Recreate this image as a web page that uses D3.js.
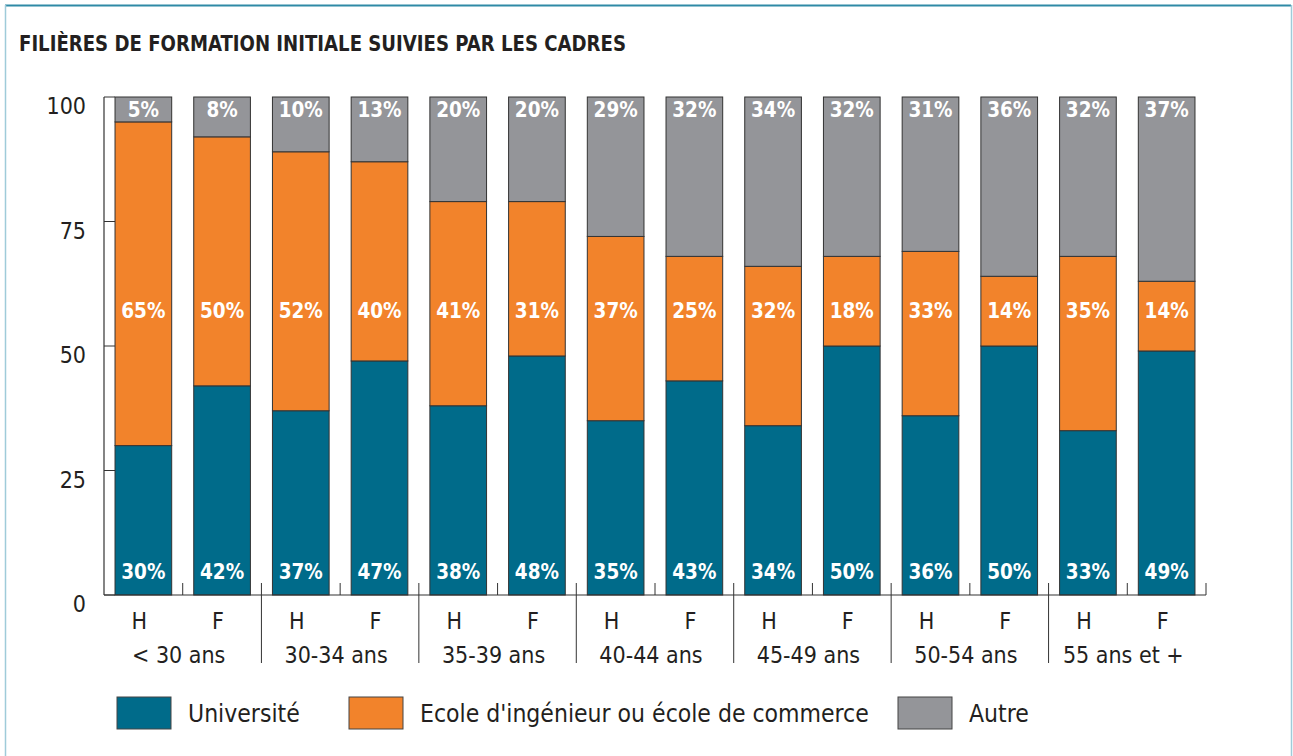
<!DOCTYPE html>
<html>
<head>
<meta charset="utf-8">
<script src="https://d3js.org/d3.v7.min.js"></script>
<style>
	body { margin: 0; background: #fff; }
	text { font-family: "DejaVu Sans Condensed", "DejaVu Sans", sans-serif; }
</style>
</head>
<body>
<svg id="chart" width="1293" height="756"></svg>
<script>

// data
const groups = ["< 30 ans", "30-34 ans", "35-39 ans", "40-44 ans", "45-49 ans", "50-54 ans", "55 ans et +"];
const sexes = ["H", "F"];
const universite = [30, 42, 37, 47, 38, 48, 35, 43, 34, 50, 36, 50, 33, 49];
const ecole = [65, 50, 52, 40, 41, 31, 37, 25, 32, 18, 33, 14, 35, 14];
const autre = [5, 8, 10, 13, 20, 20, 29, 32, 34, 32, 31, 36, 32, 37];
const yTicks = [0, 25, 50, 75, 100];
const seriesNames = ["Université", "Ecole d'ingénieur ou école de commerce", "Autre"];
const seriesColors = ["#006b8a", "#f2832b", "#949599"];

const PLOT_LEFT = 104;
const PLOT_RIGHT = 1206;
const PLOT_TOP = 97;
const PLOT_BOTTOM = 595;
const STROKE = "#333";

let svg = d3.select("svg#chart");

// frame
svg.append("line")
	.attr("x1", 5).attr("x2", 1291)
	.attr("y1", 5.5).attr("y2", 5.5)
	.attr("stroke", "#2f8aa6")
	.attr("stroke-width", 2)
	;
svg.append("line")
	.attr("x1", 5.5).attr("x2", 5.5)
	.attr("y1", 5).attr("y2", 756)
	.attr("stroke", "#9fcbd9")
	.attr("stroke-width", 1.5)
	;
svg.append("line")
	.attr("x1", 1291.5).attr("x2", 1291.5)
	.attr("y1", 5).attr("y2", 756)
	.attr("stroke", "#9fcbd9")
	.attr("stroke-width", 1.5)
	;

svg.append("text")
	.text("FILIÈRES DE FORMATION INITIALE SUIVIES PAR LES CADRES")
	.attr("x", 19)
	.attr("y", 51)
	.attr("font-size", 22)
	.attr("font-weight", "bold")
	.attr("fill", "#231f20")
	.attr("textLength", 607)
	.attr("lengthAdjust", "spacingAndGlyphs")
	;

// scales
let keys = [];
groups.forEach(g => sexes.forEach(s => keys.push(g + "|" + s)));

let x = d3.scaleBand()
	.domain(keys)
	.range([PLOT_LEFT, PLOT_RIGHT])
	.paddingInner(0.28)
	.paddingOuter(0.14)
	;
let y = d3.scaleLinear()
	.domain([0, 100])
	.range([PLOT_BOTTOM, PLOT_TOP])
	;

// y axis line + inward ticks
svg.append("line")
	.attr("x1", PLOT_LEFT).attr("x2", PLOT_LEFT)
	.attr("y1", y(100)).attr("y2", y(0))
	.attr("stroke", STROKE)
	.attr("stroke-width", 1.2)
	;
svg.selectAll(".ytick")
	.data(yTicks)
	.join("line")
	.attr("class", "ytick")
	.attr("x1", PLOT_LEFT).attr("x2", PLOT_LEFT + 11)
	.attr("y1", d => y(d)).attr("y2", d => y(d))
	.attr("stroke", STROKE)
	.attr("stroke-width", 1)
	;
svg.selectAll(".ylabel")
	.data(yTicks)
	.join("text")
	.attr("class", "ylabel")
	.text(d => d)
	.attr("x", 86)
	.attr("y", d => y(d) + 9)
	.attr("dy", "0.35em")
	.attr("text-anchor", "end")
	.attr("font-size", 23)
	.attr("fill", "#231f20")
	;

// bars
let rows = keys.map((k, i) => ({
	key: k,
	sex: k.split("|")[1],
	u: universite[i],
	e: ecole[i],
	a: autre[i]
}));

let bars = svg.selectAll(".bar")
	.data(rows)
	.join("g")
	.attr("class", "bar")
	;

bars.append("rect")
	.attr("x", d => x(d.key))
	.attr("width", x.bandwidth())
	.attr("y", d => y(d.u))
	.attr("height", d => y(0) - y(d.u))
	.attr("fill", seriesColors[0])
	.attr("stroke", STROKE)
	;
bars.append("rect")
	.attr("x", d => x(d.key))
	.attr("width", x.bandwidth())
	.attr("y", d => y(d.u + d.e))
	.attr("height", d => y(d.u) - y(d.u + d.e))
	.attr("fill", seriesColors[1])
	.attr("stroke", STROKE)
	;
// Autre fills what is left up to 100
bars.append("rect")
	.attr("x", d => x(d.key))
	.attr("width", x.bandwidth())
	.attr("y", y(100))
	.attr("height", d => y(d.u + d.e) - y(100))
	.attr("fill", seriesColors[2])
	.attr("stroke", STROKE)
	;

// value labels
let labelStyle = sel => sel
	.attr("x", d => x(d.key) + x.bandwidth() / 2)
	.attr("dy", "0.35em")
	.attr("text-anchor", "middle")
	.attr("font-family", "'DejaVu Sans', sans-serif")
	.attr("font-weight", "bold")
	.attr("font-size", 20.5)
	.attr("fill", "white")
	;
bars.append("text")
	.text(d => d.u + "%")
	.attr("y", y(0) - 23)
	.call(labelStyle)
	;
bars.append("text")
	.text(d => d.e + "%")
	.attr("y", y(57))
	.call(labelStyle)
	;
bars.append("text")
	.text(d => d.a + "%")
	.attr("y", y(100) + 13)
	.call(labelStyle)
	;

// x axis
svg.append("line")
	.attr("x1", PLOT_LEFT).attr("x2", PLOT_RIGHT)
	.attr("y1", y(0)).attr("y2", y(0))
	.attr("stroke", STROKE)
	.attr("stroke-width", 1.2)
	;
let step = x.step();
let boundaries = d3.range(1, keys.length + 1);
svg.selectAll(".xtick")
	.data(boundaries)
	.join("line")
	.attr("class", "xtick")
	.attr("x1", i => PLOT_LEFT + i * step)
	.attr("x2", i => PLOT_LEFT + i * step)
	.attr("y1", y(0) - 12)
	.attr("y2", i => (i % 2 === 0 && i < keys.length) ? 663 : y(0))
	.attr("stroke", STROKE)
	.attr("stroke-width", 1)
	;

svg.selectAll(".sexlabel")
	.data(rows)
	.join("text")
	.attr("class", "sexlabel")
	.text(d => d.sex)
	.attr("x", d => x(d.key) + x.bandwidth() / 2 - 4)
	.attr("y", 621)
	.attr("dy", "0.35em")
	.attr("text-anchor", "middle")
	.attr("font-size", 23)
	.attr("fill", "#231f20")
	;
svg.selectAll(".grouplabel")
	.data(groups)
	.join("text")
	.attr("class", "grouplabel")
	.text(d => d)
	.attr("x", d => (x(d + "|H") + x(d + "|F") + x.bandwidth()) / 2 - 4)
	.attr("y", 655)
	.attr("dy", "0.35em")
	.attr("text-anchor", "middle")
	.attr("font-size", 23)
	.attr("fill", "#231f20")
	;

// legend
let legendX = [117, 349, 898];
let legend = svg.selectAll(".legend")
	.data(seriesNames)
	.join("g")
	.attr("class", "legend")
	.attr("transform", (d, i) => "translate(" + legendX[i] + ",697)")
	;
legend.append("rect")
	.attr("width", 54)
	.attr("height", 32)
	.attr("fill", (d, i) => seriesColors[i])
	.attr("stroke", "#444")
	;
legend.append("text")
	.text(d => d)
	.attr("x", 71)
	.attr("y", 16)
	.attr("dy", "0.35em")
	.attr("font-size", 24.5)
	.attr("fill", "#231f20")
	;

</script>
</body>
</html>
